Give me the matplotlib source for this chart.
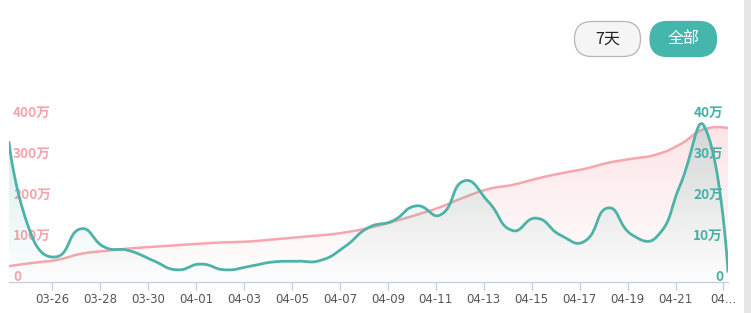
import numpy as np
import matplotlib
matplotlib.use("Agg")
import matplotlib.pyplot as plt
from matplotlib.patches import Polygon, FancyBboxPatch

# ---------------- data ----------------
dates = ["03-24", "03-25", "03-26", "03-27", "03-28", "03-29", "03-30", "03-31",
         "04-01", "04-02", "04-03", "04-04", "04-05", "04-06", "04-07", "04-08",
         "04-09", "04-10", "04-11", "04-12", "04-13", "04-14", "04-15", "04-16",
         "04-17", "04-18", "04-19", "04-20", "04-21", "04-22", "04-23"]
# cumulative (left axis, 万)
total_wan = [38, 46, 53, 68, 75, 81, 85, 89, 93, 96, 98, 103, 108, 113, 120, 131,
             146, 163, 182, 206, 226, 236, 251, 264, 275, 290, 300, 310, 335, 372, 375]
# daily (right axis, 万)
daily_wan = [34, 10.5, 6.1, 12.9, 8.4, 7.6, 5.2, 2.9, 4.3, 2.9, 3.7, 4.8, 5.0, 5.2,
             8.5, 13.2, 14.8, 18.5, 16.3, 24.6, 19.5, 12.5, 15.5, 11.4, 9.8, 18.0,
             11.4, 10.8, 23.5, 38.0, 2.5]
tick_dates = ["03-26", "03-28", "03-30", "04-01", "04-03", "04-05", "04-07", "04-09",
              "04-11", "04-13", "04-15", "04-17", "04-19", "04-21", "04-23"]
tick_texts = ["03-26", "03-28", "03-30", "04-01", "04-03", "04-05", "04-07", "04-09",
              "04-11", "04-13", "04-15", "04-17", "04-19", "04-21", "04..."]
left_ticks = [0, 100, 200, 300, 400]
left_labels = ["0", "100万", "200万", "300万", "400万"]
right_ticks = [0, 10, 20, 30, 40]
right_labels = ["0", "10万", "20万", "30万", "40万"]
buttons = ["7天", "全部"]

# ---------------- style ----------------
W, H, DPI = 751, 313, 100
PINK = "#f7a6ad"
PINK_TXT = "#f8a3aa"
TEAL = "#4db3a8"
TEAL_TXT = "#45b1a5"
AXIS_C = "#c5cfdf"
TXT_C = "#555555"
CJK = ["Noto Sans CJK SC", "DejaVu Sans"]

fig = plt.figure(figsize=(W / DPI, H / DPI), dpi=DPI)
fig.patch.set_facecolor("white")

# pixel geometry of plot
px_l, px_r, px_b, px_t = 9, 728, 281.7, 117.7
ax = fig.add_axes([px_l / W, (H - px_b) / H, (px_r - px_l) / W, (px_b - px_t) / H])
ax2 = ax.twinx()

day_shift = 0.19  # data sampled slightly after midnight
x = np.arange(len(dates)) + day_shift
xmin, xmax = x[0], x[-1]

sx = (px_r - px_l) / (xmax - xmin)
sy_l = (px_b - px_t) / 400
sy_r = (px_b - px_t) / 40


def smooth(xs, ys, sxs, sys_, s=0.5, per=24):
    P = np.column_stack([np.asarray(xs) * sxs, np.asarray(ys) * sys_])
    n = len(P)
    cin = P.copy()
    cout = P.copy()
    for i in range(1, n - 1):
        v = P[i + 1] - P[i - 1]
        l0 = np.linalg.norm(P[i] - P[i - 1])
        l1 = np.linalg.norm(P[i + 1] - P[i])
        r = l1 / (l0 + l1)
        cin[i] = P[i] - v * s * (1 - r)
        cout[i] = P[i] + v * s * r
    t = np.linspace(0, 1, per)[:, None]
    pts = []
    for i in range(n - 1):
        b = ((1 - t) ** 3 * P[i] + 3 * (1 - t) ** 2 * t * cout[i]
             + 3 * (1 - t) * t ** 2 * cin[i + 1] + t ** 3 * P[i + 1])
        pts.append(b if i == 0 else b[1:])
    pts = np.vstack(pts)
    return pts[:, 0] / sxs, pts[:, 1] / sys_


def grad_fill(a, cx, cy, color, a_top, ymax):
    verts = np.column_stack([np.r_[cx[0], cx, cx[-1]], np.r_[0, cy, 0]])
    poly = Polygon(verts, closed=True, facecolor="none", edgecolor="none")
    a.add_patch(poly)
    rgb = matplotlib.colors.to_rgb(color)
    grad = np.zeros((256, 1, 4))
    grad[:, 0, :3] = rgb
    grad[:, 0, 3] = np.linspace(a_top, 0.0, 256)
    im = a.imshow(grad, extent=[xmin, xmax, 0, ymax], aspect="auto",
                  origin="upper", interpolation="bilinear", zorder=1)
    im.set_clip_path(poly)


px_, py_ = smooth(x, total_wan, sx, sy_l)
gx_, gy_ = smooth(x, daily_wan, sx, sy_r)

grad_fill(ax, px_, py_, PINK, 0.30, max(total_wan))
ax.plot(px_, py_, color=PINK, lw=1.8, zorder=3, solid_capstyle="round")
grad_fill(ax2, gx_, gy_, TEAL, 0.24, max(daily_wan))
ax2.plot(gx_, gy_, color=TEAL, lw=2.0, zorder=3, solid_capstyle="round")
ax.set_ylim(0, 400)
ax2.set_ylim(0, 40)
ax.set_xlim(xmin, xmax)
ax2.set_xlim(xmin, xmax)

for a in (ax, ax2):
    a.set_facecolor("none")
    for sp in a.spines.values():
        sp.set_visible(False)
    a.set_yticks([])
ax.patch.set_visible(False)

ax.spines["bottom"].set_visible(True)
ax.spines["bottom"].set_color(AXIS_C)
ax.spines["bottom"].set_linewidth(1.0)
tick_pos = [dates.index(d) for d in tick_dates]
ax.set_xticks(tick_pos)
ax.set_xticklabels(tick_texts)
ax.tick_params(axis="x", length=5.5, width=1.0, color=AXIS_C, pad=2.5,
               labelsize=8.5, labelcolor=TXT_C)
ax2.tick_params(axis="x", length=0, labelbottom=False)
for lab in ax.get_xticklabels():
    lab.set_fontfamily("DejaVu Sans")

# y labels drawn inside the plot
for v, s in zip(left_ticks, left_labels):
    ax.annotate(s, xy=(0, v), xycoords=("axes fraction", "data"),
                xytext=(4, 5), textcoords="offset pixels", ha="left", va="center",
                fontsize=9.8, fontweight="bold", color=PINK_TXT, family=CJK, zorder=5)
for v, s in zip(right_ticks, right_labels):
    ax2.annotate(s, xy=(1, v), xycoords=("axes fraction", "data"),
                 xytext=(-5, 5), textcoords="offset pixels", ha="right", va="center",
                 fontsize=9.8, fontweight="bold", color=TEAL_TXT, family=CJK, zorder=5)


# buttons (figure pixel coordinates, y from top)
def pill(x0, x1, y0, y1, fc, ec, text, tc):
    h = y1 - y0
    r = h / 2
    p = FancyBboxPatch((x0 + r, H - y1 + r), (x1 - x0) - 2 * r, 0,
                       boxstyle=f"round,pad={r}",
                       transform=None, facecolor=fc, edgecolor=ec, lw=0.9)
    fig.patches.append(p)
    fig.text((x0 + x1) / 2 / W, (H - (y0 + y1) / 2) / H, text, ha="center",
             va="center", color=tc, fontsize=11.5, family=CJK)


pill(574.5, 640.5, 21.5, 56.5, "#f5f5f5", "#b5b5b5", buttons[0], "#222222")
pill(650, 716.5, 21.5, 56.5, "#45b6ab", "#45b6ab", buttons[1], "white")

# right gray strip
fig.patches.append(matplotlib.patches.Rectangle((744 / W, 0), 7 / W, 1,
                   transform=fig.transFigure, facecolor="#e6e6e6", edgecolor="none"))

fig.savefig("out.png", dpi=DPI, facecolor="white")
